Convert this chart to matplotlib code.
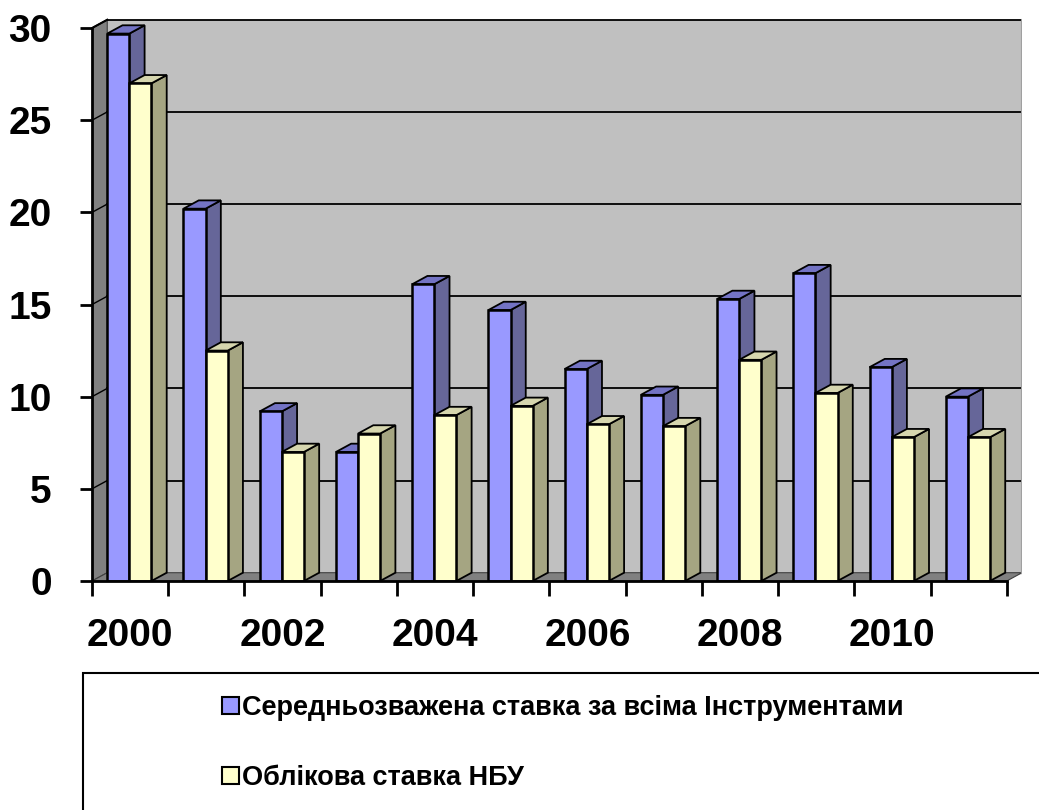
import matplotlib.pyplot as plt
from matplotlib.patches import Patch, Rectangle

plt.rcParams['font.family'] = ['Liberation Sans', 'DejaVu Sans']

years = list(range(2000, 2012))
weighted_rate = [29.7, 20.2, 9.2, 7.0, 16.1, 14.7, 11.5, 10.1, 15.3, 16.7, 11.6, 10.0]
nbu_rate = [27.0, 12.5, 7.0, 8.0, 9.0, 9.5, 8.5, 8.4, 12.0, 10.2, 7.8, 7.8]
series_names = ['Середньозважена ставка за всіма Інструментами', 'Облікова ставка НБУ']
year_labels = ['2000', '2002', '2004', '2006', '2008', '2010']

# 3d look: depth offset of the back plane (category units / value units)
dx, dy = 0.2, 0.45
bar_w = 0.29
front = ['#9999FF', '#FFFFCC']
side = ['#666699', '#A5A582']
top = ['#7373C4', '#D6D6AE']

fig = plt.figure(figsize=(10.39, 8.10), dpi=100)
ax = fig.add_axes([92 / 1039, 229 / 810, 930 / 1039, 564 / 810])
n = len(years)
ax.set_xlim(-0.5, n - 0.5 + dx)
ax.set_ylim(0, 30.6)

# walls and floor
ax.fill([-0.5 + dx, n - 0.5 + dx, n - 0.5 + dx, -0.5 + dx], [dy, dy, 30 + dy, 30 + dy],
        color='#C0C0C0', zorder=0)
ax.fill([-0.5, -0.5 + dx, -0.5 + dx, -0.5], [0, dy, 30 + dy, 30], facecolor='#808080',
        edgecolor='#404040', lw=0.8, zorder=0.5)
ax.fill([-0.5, n - 0.5, n - 0.5 + dx, -0.5 + dx], [0, 0, dy, dy], facecolor='#808080',
        edgecolor='#404040', lw=0.8, zorder=0.5)
for v in range(5, 31, 5):
    ax.plot([-0.5 + dx, n - 0.5 + dx], [v + dy, v + dy], color='black', lw=1.3, zorder=0.6)
    ax.plot([-0.5, -0.5 + dx], [v, v + dy], color='black', lw=1.0, zorder=0.6)
ax.plot([-0.5, -0.5 + dx], [30, 30 + dy], color='black', lw=1.5, zorder=0.6)
ax.plot([n - 0.5 + dx, n - 0.5 + dx], [dy, 30 + dy], color='#A0A0A0', lw=1.5, zorder=0.6)

# bars with side and top faces
z = 1
for i in range(n):
    for k, vals in enumerate([weighted_rate, nbu_rate]):
        v = vals[i]
        xl = i - 0.5 + 0.2 + k * bar_w
        xr = xl + bar_w
        ax.fill([xr, xr + dx, xr + dx, xr], [0, dy, v + dy, v], facecolor=side[k],
                edgecolor='black', lw=1.3, zorder=z)
        ax.fill([xl, xl + dx, xr + dx, xr], [v, v + dy, v + dy, v], facecolor=top[k],
                edgecolor='black', lw=1.3, zorder=z)
        ax.bar(xl + bar_w / 2, v, bar_w, color=front[k], edgecolor='black', lw=1.8, zorder=z + 0.5)
        z += 1

for s in ['top', 'right']:
    ax.spines[s].set_visible(False)
ax.spines['left'].set_bounds(0, 30)
ax.spines['bottom'].set_bounds(-0.5, n - 0.5)
for s in ['left', 'bottom']:
    ax.spines[s].set_linewidth(2)
    ax.spines[s].set_zorder(100)

ax.set_yticks(range(0, 31, 5))
ax.tick_params(axis='y', length=9, width=2, pad=20, labelsize=28)
for t in ax.get_yticklabels():
    t.set_fontweight('bold')
ax.set_xticks([i - 0.5 for i in range(n + 1)])
ax.set_xticklabels([])
ax.tick_params(axis='x', which='major', length=11, width=2)
ax.set_xticks(range(0, n, 2), minor=True)
ax.set_xticklabels(year_labels, minor=True, fontsize=28, fontweight='bold')
ax.tick_params(axis='x', which='minor', length=0, pad=27)

# legend box runs off the figure edge
fig.patches.append(Rectangle((83 / 1039, -0.1), 1.0, (810 - 673) / 810 + 0.1,
                             transform=fig.transFigure, fill=False, edgecolor='black', lw=1.5))
handles = [Patch(facecolor=front[k], edgecolor='black', lw=1.5) for k in range(2)]
fig.legend(handles, series_names, loc='upper left', bbox_to_anchor=(222 / 1039, 1 - 695 / 810),
           frameon=False, borderpad=0, borderaxespad=0, handlelength=0.63, handleheight=0.63,
           handletextpad=0.12, labelspacing=1.63, prop={'size': 19.5, 'weight': 'bold'})

fig.savefig('out.png', dpi=100)
